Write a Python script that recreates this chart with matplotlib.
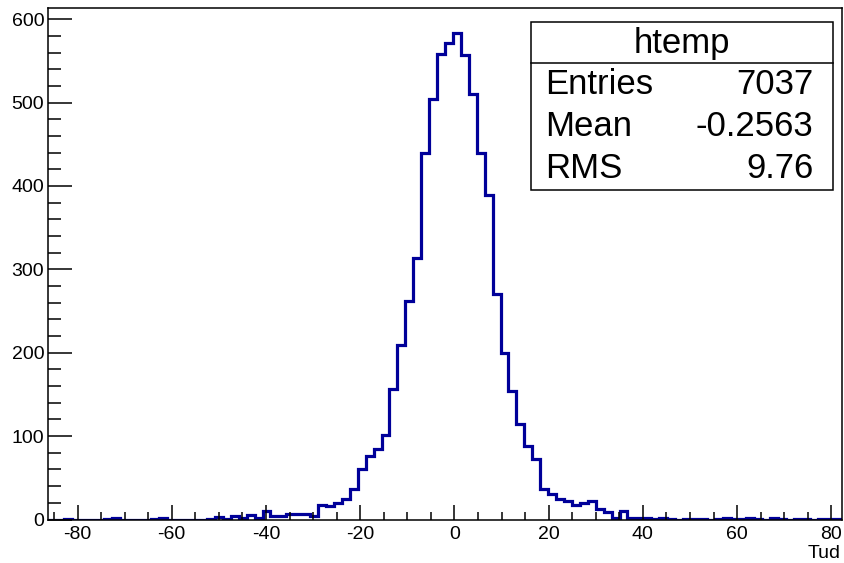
import numpy as np
import matplotlib
matplotlib.use("Agg")
import matplotlib.pyplot as plt
from matplotlib.patches import Rectangle
from matplotlib.lines import Line2D
from matplotlib.ticker import MultipleLocator

plt.rcParams['font.family'] = ['Liberation Sans', 'DejaVu Sans']
plt.rcParams['axes.unicode_minus'] = False

# histogram of Tud, 100 bins
x_lo, x_hi = -86.2, 82.2
counts = [0, 0, 1, 0, 0, 0, 0, 1, 2, 0,
          0, 0, 0, 1, 2, 0, 0, 0, 0, 0,
          1, 3, 1, 4, 2, 5, 2, 10, 4, 4,
          6, 6, 7, 4, 17, 16, 20, 25, 36, 60,
          76, 84, 101, 156, 209, 262, 314, 440, 504, 558,
          572, 584, 557, 510, 440, 389, 271, 200, 154, 115,
          88, 72, 37, 30, 24, 22, 17, 20, 22, 12,
          9, 2, 10, 2, 2, 2, 1, 2, 1, 0,
          1, 1, 1, 0, 1, 2, 1, 1, 2, 1,
          0, 2, 1, 0, 1, 1, 0, 1, 1, 1]
edges = np.linspace(x_lo, x_hi, len(counts) + 1)

stats_title = "htemp"
stats_names = ["Entries", "Mean", "RMS"]
stats_values = ["7037", "-0.2563", "9.76"]
x_label = "Tud"

W, H = 844, 563
fig = plt.figure(figsize=(W / 100, H / 100), dpi=100)


def fx(px):
    return px / W


def fy(py):
    return 1 - py / H


ax = fig.add_axes([fx(48.3), fy(519.5), fx(841.7) - fx(48.3), fy(7.5) - fy(519.5)])
ax.stairs(counts, edges, color='#000099', linewidth=2.3)
ax.set_xlim(x_lo, x_hi)
ax.set_ylim(0, 614)

ax.xaxis.set_major_locator(MultipleLocator(20))
ax.xaxis.set_minor_locator(MultipleLocator(5))
ax.yaxis.set_major_locator(MultipleLocator(100))
ax.yaxis.set_minor_locator(MultipleLocator(20))
ax.tick_params(axis='x', which='major', direction='in', length=11, width=1.1,
               labelsize=14, pad=5, top=False)
ax.tick_params(axis='x', which='minor', direction='in', length=5.5, width=1.1, top=False)
ax.tick_params(axis='y', which='major', direction='in', length=17, width=1.1,
               labelsize=14, pad=3, right=False)
ax.tick_params(axis='y', which='minor', direction='in', length=9, width=1.1, right=False)
for s in ax.spines.values():
    s.set_linewidth(1.1)

fig.text(fx(841), fy(553), x_label, ha='right', va='center', fontsize=14)

# stats box
bx0, by0, bx1, by1 = 530.7, 21.7, 833.3, 190
fig.patches.append(Rectangle((fx(bx0), fy(by1)), fx(bx1) - fx(bx0), fy(by0) - fy(by1),
                             transform=fig.transFigure, facecolor='white',
                             edgecolor='black', linewidth=1.1, zorder=5))
fig.lines.append(Line2D([fx(bx0), fx(bx1)], [fy(63.3), fy(63.3)],
                        transform=fig.transFigure, color='black', linewidth=1.1, zorder=6))
fig.text(fx((bx0 + bx1) / 2), fy(43), stats_title, ha='center', va='center',
         fontsize=25, zorder=7)
for name, val, yc in zip(stats_names, stats_values, [85, 126, 168]):
    fig.text(fx(545), fy(yc), name, ha='left', va='center', fontsize=25, zorder=7)
    fig.text(fx(813.3), fy(yc), val, ha='right', va='center', fontsize=25, zorder=7)

fig.savefig("out.png", dpi=100)
